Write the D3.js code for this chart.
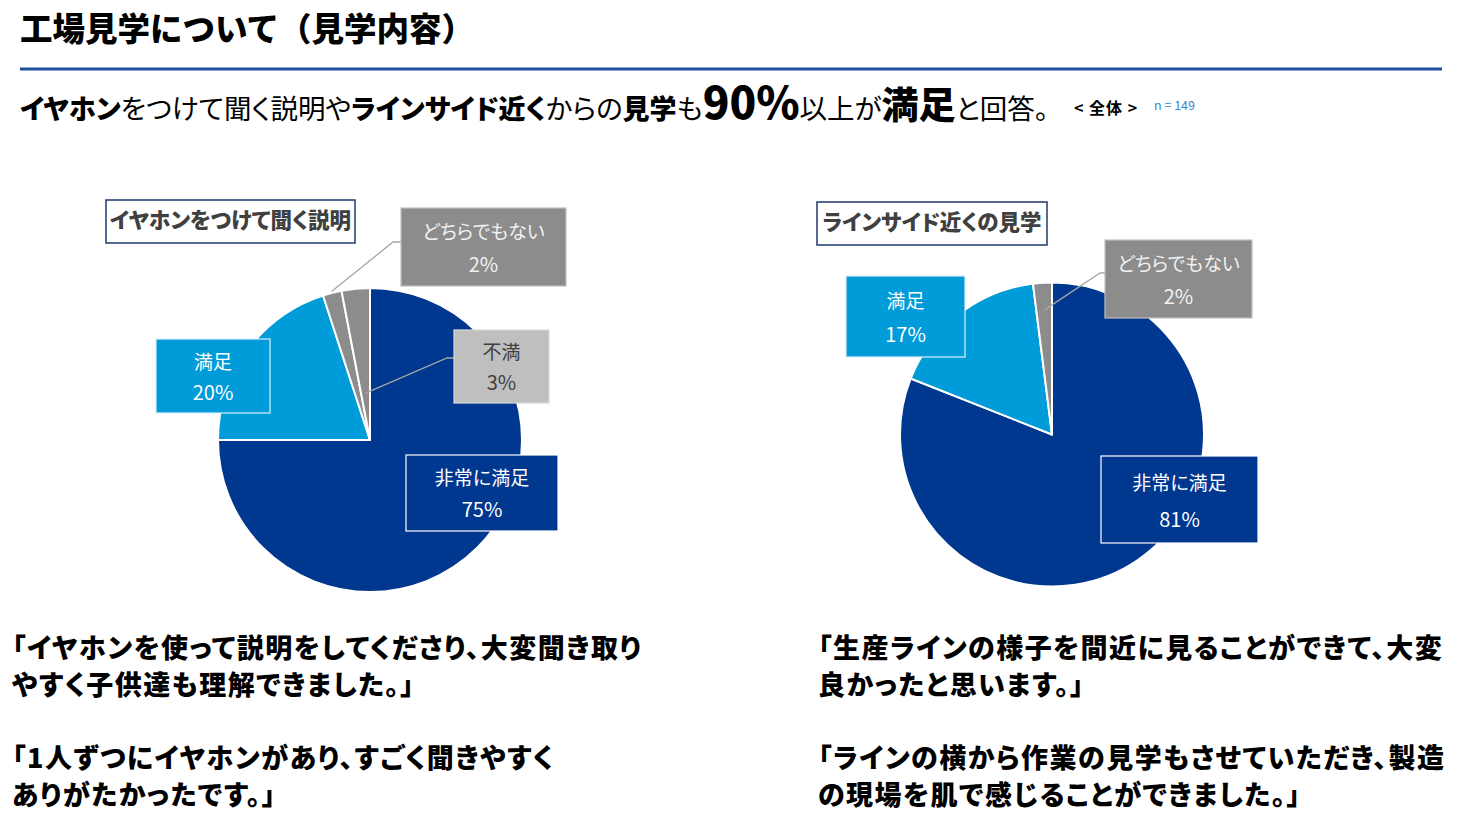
<!DOCTYPE html>
<html><head><meta charset="utf-8">
<script src="https://cdn.jsdelivr.net/npm/d3@7/dist/d3.min.js"></script>
<style>
html,body{margin:0;padding:0;background:#fff;}
svg{display:block;font-family:"Noto Sans CJK JP","Noto Sans",sans-serif;font-feature-settings:"palt";}
.nopalt{font-feature-settings:normal;}
</style></head>
<body><svg id="c" width="1469" height="819"></svg>
<script>
// ---- data ----
const categories1 = ["非常に満足","満足","どちらでもない","不満"];
const values1 = [75, 20, 2, 3];
const categories2 = ["非常に満足","満足","どちらでもない"];
const values2 = [81, 17, 2];
const chartTitles = ["イヤホンをつけて聞く説明","ラインサイド近くの見学"];
const pageTitle = "工場見学について（見学内容）";
const headline = [
  ["イヤホン","b"],["をつけて聞く説明や","n"],["ラインサイド近く","b"],["からの","n"],
  ["見学","b"],["も","n"],["90%","xl"],["以上が","n"],["満足","l"],["と回答。","n"]
];
const scopeLabel = "< 全体 >";
const sampleLabel = "n = 149";
const comments1 = ["「イヤホンを使って説明をしてくださり、大変聞き取り","やすく子供達も理解できました。」","","「1人ずつにイヤホンがあり、すごく聞きやすく","ありがたかったです。」"];
const comments2 = ["「生産ラインの様子を間近に見ることができて、大変","良かったと思います。」","","「ラインの横から作業の見学もさせていただき、製造","の現場を肌で感じることができました。」"];

// ---- styles ----
const color = d3.scaleOrdinal()
  .domain(["非常に満足","満足","どちらでもない","不満"])
  .range(["#00378f","#009bd9","#8c8c8c","#8c8c8c"]);
const boxFill = {"非常に満足":"#00378f","満足":"#009bd9","どちらでもない":"#8c8c8c","不満":"#bfbfbf"};
const boxText = {"非常に満足":"#ffffff","満足":"#ffffff","どちらでもない":"#f2f2f2","不満":"#404040"};
const boxStroke = {"非常に満足":"#ffffff","満足":"#d9eef8","どちらでもない":"#bfbfbf","不満":"#d9d9d9"};

const svg = d3.select("#c");

// header
svg.append("text").attr("class","nopalt").attr("x",20).attr("y",41).attr("font-size",32.5).attr("font-weight",900)
  .attr("fill","#000").text(pageTitle);
svg.append("rect").attr("x",20).attr("y",67.5).attr("width",1422).attr("height",3).attr("fill","#1f4e9f");

const sizes = {n:{fs:27.5,fw:400},b:{fs:27,fw:900},xl:{fs:44,fw:900},l:{fs:37,fw:900}};
const hl = svg.append("text").attr("x",20).attr("y",119).attr("fill","#000");
headline.forEach(([t,k])=>{
  hl.append("tspan").attr("font-size",sizes[k].fs).attr("font-weight",sizes[k].fw).text(t);
});
svg.append("text").attr("x",1074).attr("y",114).attr("font-size",16).attr("font-weight",700)
  .attr("fill","#000").attr("letter-spacing",1).text(scopeLabel);
svg.append("text").attr("class","nopalt").attr("x",1154).attr("y",110).attr("font-size",12.5)
  .attr("fill","#3a86c8").text(sampleLabel);

// pies
const layouts = [
  {cx:370, cy:440, r:152, title:{x:106,y:200,w:249,h:43},
   boxes:{"非常に満足":{x:406,y:455,w:152,h:76},"満足":{x:156,y:339,w:114,h:74},
          "どちらでもない":{x:401,y:208,w:165,h:78},"不満":{x:454,y:330,w:95,h:73}},
   leaders:{"どちらでもない":{rr:1.01,elbow:[393,242],end:[401,242]},
            "不満":{rr:0.31,elbow:[447,358],end:[454,358]}}},
  {cx:1052, cy:434.5, r:152, title:{x:817,y:202,w:230,h:43},
   boxes:{"非常に満足":{x:1101,y:456,w:157,h:87},"満足":{x:846,y:276,w:119,h:81},
          "どちらでもない":{x:1105,y:240,w:147,h:78}},
   leaders:{"どちらでもない":{rr:0.82,elbow:[1100,273],end:[1105,273]}}}
];
const datasets = [[categories1,values1],[categories2,values2]];

datasets.forEach(([cats,vals],i)=>{
  const L = layouts[i];
  const data = cats.map((c,j)=>({cat:c,value:vals[j]}));
  const pie = d3.pie().sort(null).value(d=>d.value);
  const arcs = pie(data);
  const arc = d3.arc().innerRadius(0).outerRadius(L.r);
  const g = svg.append("g").attr("transform",`translate(${L.cx},${L.cy})`);
  g.selectAll("path").data(arcs).join("path")
    .attr("d",arc).attr("fill",d=>color(d.data.cat))
    .attr("stroke","#fff").attr("stroke-width",2).attr("stroke-linejoin","round");

  // leaders
  arcs.forEach(a=>{
    const ld = L.leaders[a.data.cat];
    if(!ld) return;
    const m = (a.startAngle+a.endAngle)/2;
    const px = L.cx + Math.sin(m)*L.r*ld.rr, py = L.cy - Math.cos(m)*L.r*ld.rr;
    svg.append("polyline").attr("points",`${px},${py} ${ld.elbow[0]},${ld.elbow[1]} ${ld.end[0]},${ld.end[1]}`)
      .attr("fill","none").attr("stroke","#a6a6a6").attr("stroke-width",1.3);
  });

  // label boxes
  arcs.forEach(a=>{
    const b = L.boxes[a.data.cat];
    const c = a.data.cat;
    svg.append("rect").attr("x",b.x).attr("y",b.y).attr("width",b.w).attr("height",b.h)
      .attr("fill",boxFill[c]).attr("stroke",boxStroke[c]).attr("stroke-width",1.2);
    const tx = b.x+b.w/2;
    svg.append("text").attr("x",tx).attr("y",b.y+b.h*0.33).attr("text-anchor","middle")
      .attr("dominant-baseline","middle").attr("font-size",19).attr("fill",boxText[c]).text(c);
    svg.append("text").attr("x",tx).attr("y",b.y+b.h*0.75).attr("text-anchor","middle")
      .attr("dominant-baseline","middle").attr("font-size",20).attr("fill",boxText[c])
      .text(a.data.value+"%");
  });

  // title box
  const t = L.title;
  svg.append("rect").attr("x",t.x).attr("y",t.y).attr("width",t.w).attr("height",t.h)
    .attr("fill","#fff").attr("stroke","#1f3a70").attr("stroke-width",1.5);
  svg.append("text").attr("x",t.x+t.w/2).attr("y",t.y+t.h/2+1).attr("text-anchor","middle")
    .attr("dominant-baseline","middle").attr("font-size",21.5).attr("font-weight",900)
    .attr("fill","#404040").text(chartTitles[i]);
});

// comments
[[comments1,12],[comments2,818]].forEach(([lines,x])=>{
  lines.forEach((ln,k)=>{
    if(!ln) return;
    svg.append("text").attr("x",x).attr("y",658+k*36.7).attr("font-size",27)
      .attr("font-weight",900).attr("fill","#000").attr("letter-spacing",1.5).text(ln);
  });
});
</script></body></html>
